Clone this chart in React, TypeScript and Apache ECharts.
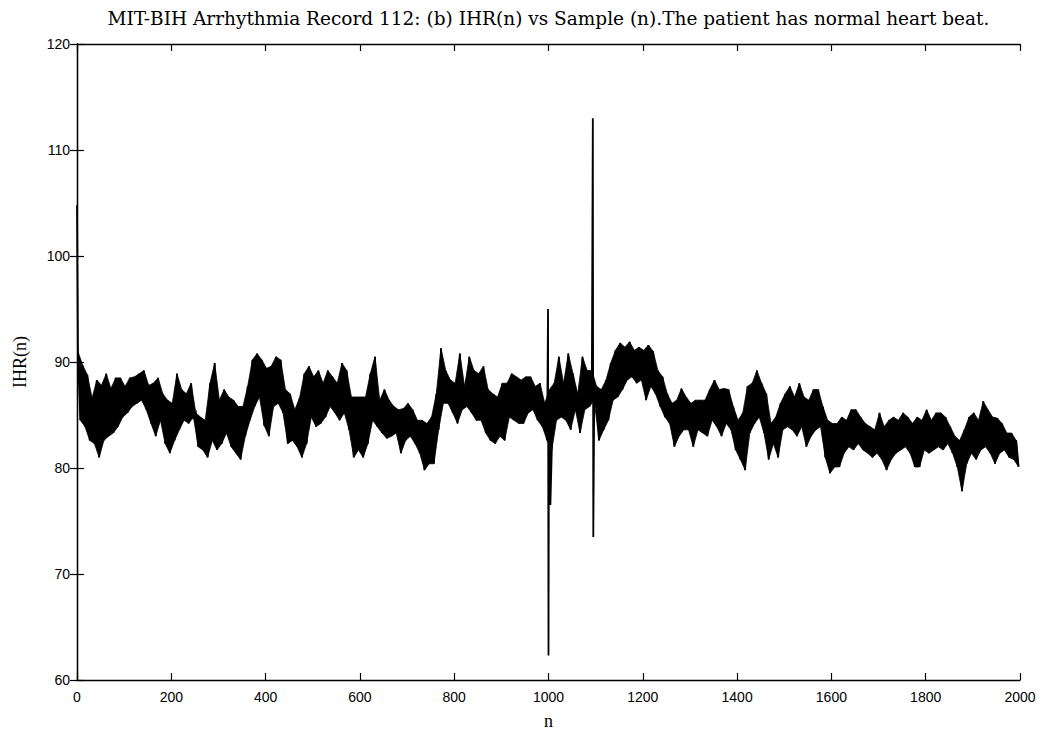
import React, { useEffect, useRef } from "react";
import * as echarts from "echarts";

const titleText =
  "MIT-BIH Arrhythmia Record 112: (b) IHR(n) vs Sample (n).The patient has normal heart beat.";
const xName = "n";
const yName = "IHR(n)";

// sample index step of each envelope bin
const binStep = 10;

// upper envelope of IHR per 10-sample bin (bins 0..199)
const binHi = [
  91, 89.7, 88.8, 86.6, 88.3, 87.8, 88.9, 87.5, 88.5, 88.5,
  87.7, 88.5, 88.6, 88.9, 89.2, 87.8, 88, 88.5, 87, 86.4,
  86.1, 88.9, 87.4, 87, 88, 85.2, 84.8, 84.5, 88, 89.9,
  86.4, 87.4, 86.7, 86.4, 85.8, 85.8, 87.7, 90.2, 90.8, 90.2,
  89.4, 89.6, 90.5, 90.2, 87.4, 87, 85.5, 86.6, 88.9, 89.6,
  88.6, 89.2, 88, 89.2, 88.6, 88, 89.9, 89.2, 86.7, 86.7,
  86.7, 86.7, 88.9, 90.5, 86.4, 87.4, 86.4, 85.8, 85.5, 85.6,
  86.1, 85.5, 84.5, 84.5, 84.2, 84.8, 87, 91.3, 89.2, 88.3,
  88, 90.8, 87.7, 90.5, 89.2, 88.9, 89.6, 87.4, 87, 86.7,
  88, 88, 88.9, 88.6, 88.3, 88.6, 88.6, 87.7, 88, 86.1,
  87.4, 88, 90.5, 88, 90.8, 88.9, 87, 90.5, 89.2, 89.2,
  87.7, 87.4, 88.3, 89.9, 91.1, 91.8, 91.4, 91.9, 91.1, 91.4,
  91.1, 91.6, 91, 89.2, 88.6, 87, 86.1, 86.4, 87.5, 86.7,
  86.1, 86.4, 86.4, 86.4, 87.4, 88.3, 87.4, 87.5, 87.4, 85.8,
  84.5, 85.2, 87.7, 88, 89.2, 88, 87, 84.2, 84.8, 86.1,
  87, 87.7, 86.7, 88, 86.7, 86.4, 87.4, 87.4, 85.8, 84.5,
  84.2, 84.2, 84.8, 84.5, 85.5, 85.5, 84.8, 84.2, 83.9, 83.6,
  85.2, 83.9, 84.5, 84.8, 84.5, 85.2, 84.8, 84.2, 84.8, 84.5,
  85.5, 84.5, 85.2, 85.2, 84.8, 83.9, 83, 82.6, 83.6, 84.8,
  85.2, 84.5, 86.3, 85.5, 84.8, 84.7, 84.2, 83.3, 83.3, 82.6,
];

// lower envelope of IHR per 10-sample bin (bins 0..199)
const binLo = [
  84.5, 83.9, 82.6, 82.3, 81, 82.6, 83, 83.3, 83.9, 84.8,
  85.2, 85.8, 86.1, 86.4, 85.5, 84.2, 83, 84.5, 82.3, 81.4,
  82.6, 83.6, 84.5, 84.2, 84.8, 82, 81.7, 81, 82.6, 81.7,
  82.3, 83.3, 82, 81.4, 80.8, 83, 84.5, 85.8, 86.7, 84,
  83, 85.8, 86.1, 85.2, 82.3, 82.6, 82, 81, 82.3, 84.8,
  83.9, 84.2, 84.8, 85.8, 85.2, 84.5, 85.2, 83.6, 81, 81.7,
  81, 82.3, 84.5, 83.9, 83.3, 82.8, 83, 83.3, 81.4, 82.6,
  83, 82.3, 81.4, 79.8, 80.4, 80.4, 83.6, 86.1, 86.1, 85.2,
  84.2, 85.5, 85.8, 85.2, 84.5, 84.5, 83.3, 82.6, 82.3, 83,
  82.6, 84.8, 84.5, 84.2, 84.2, 85.2, 85.5, 84.5, 83.9, 82.6,
  81.7, 84.5, 84.8, 84.5, 83.6, 85.5, 83.3, 85.5, 85.8, 86.4,
  82.6, 83.6, 84.5, 86.4, 86.7, 87.4, 88.3, 88.6, 88, 88.3,
  86.4, 87.7, 87, 85.8, 84.8, 84.2, 82, 83, 83.6, 83.6,
  82, 83.6, 83.3, 83, 84.5, 83.9, 83, 84.2, 83.6, 81.7,
  80.8, 79.8, 83.3, 84.2, 84.8, 83.3, 80.8, 82.3, 81, 83.6,
  83.9, 83.6, 83, 83.9, 82, 83, 83.6, 83.9, 81, 79.5,
  80.1, 80.1, 81.4, 82, 81.7, 82.3, 81.7, 81.4, 81, 81.4,
  80.8, 79.8, 80.8, 81.4, 81.7, 82, 81.4, 80.1, 80.1, 81.7,
  81.4, 81.7, 82, 81.7, 82.3, 81.4, 80.1, 77.8, 80.4, 81.4,
  80.8, 81.7, 82, 81.4, 80.4, 81.4, 81.7, 81, 80.8, 80.1,
];

// isolated spikes (sample index, IHR)
const spikeN = [0, 999, 1000, 1001, 1004, 1094, 1095];
const spikeV = [104.8, 95, 62.3, 86, 76.5, 113, 73.5];

const xTicks = { min: 0, max: 2000, interval: 200 };
const yTicks = { min: 60, max: 120, interval: 10 };

function buildSeries(): [number, number][] {
  const pts: [number, number][] = [];
  for (let i = 0; i < binHi.length; i++) {
    pts.push([i * binStep + 2, binHi[i]]);
    pts.push([i * binStep + 7, binLo[i]]);
  }
  for (let k = 0; k < spikeN.length; k++) pts.push([spikeN[k], spikeV[k]]);
  pts.sort((a, b) => a[0] - b[0]);
  return pts;
}

export default function App() {
  const ref = useRef<HTMLDivElement>(null);
  useEffect(() => {
    if (!ref.current) return;
    const chart = echarts.init(ref.current, undefined, { renderer: "svg" });
    const axisLine = { show: true, lineStyle: { color: "#000", width: 1.3 } };
    const tick = { show: true, inside: true, length: 7, lineStyle: { color: "#000", width: 1.2 } };
    const labelStyle = {
      color: "#000",
      fontSize: 14,
      fontFamily: "Liberation Sans",
      formatter: (v: number) => String(v),
    };
    const nameStyle = { color: "#000", fontSize: 18, fontFamily: "Liberation Serif" };
    chart.setOption({
      animation: false,
      backgroundColor: "#fff",
      grid: { left: 77, right: 21, top: 44, bottom: 56, containLabel: false },
      graphic: [
        {
          type: "text",
          x: 548.5,
          y: 18,
          style: {
            text: titleText,
            textAlign: "center",
            textVerticalAlign: "middle",
            fontSize: 18.5,
            fontFamily: "DejaVu Serif",
            fill: "#000",
          },
        },
      ],
      xAxis: [
        {
          type: "value",
          position: "bottom",
          ...xTicks,
          axisLine,
          axisTick: tick,
          axisLabel: { ...labelStyle, margin: 10 },
          splitLine: { show: false },
          name: xName,
          nameLocation: "middle",
          nameGap: 32,
          nameTextStyle: nameStyle,
        },
        {
          type: "value",
          position: "top",
          ...xTicks,
          axisLine,
          axisTick: tick,
          axisLabel: { show: false },
          splitLine: { show: false },
        },
      ],
      yAxis: [
        {
          type: "value",
          position: "left",
          ...yTicks,
          axisLine,
          axisTick: tick,
          axisLabel: { ...labelStyle, margin: 7 },
          splitLine: { show: false },
          name: yName,
          nameLocation: "middle",
          nameGap: 48,
          nameTextStyle: nameStyle,
        },
        {
          type: "value",
          position: "right",
          ...yTicks,
          axisLine,
          axisTick: tick,
          axisLabel: { show: false },
          splitLine: { show: false },
        },
      ],
      series: [
        {
          type: "custom",
          xAxisIndex: 0,
          yAxisIndex: 0,
          silent: true,
          clip: true,
          data: [[binStep, binHi[0]]],
          renderItem: (_params: any, api: any) => {
            const pts: number[][] = [];
            for (let i = 0; i < binHi.length; i++) pts.push(api.coord([i * binStep + 2, binHi[i]]));
            for (let i = binLo.length - 1; i >= 0; i--) pts.push(api.coord([i * binStep + 7, binLo[i]]));
            return { type: "polygon", shape: { points: pts }, style: { fill: "#000", stroke: "#000", lineWidth: 0.8 } };
          },
        },
        {
          type: "line",
          xAxisIndex: 0,
          yAxisIndex: 0,
          data: buildSeries(),
          showSymbol: false,
          symbol: "none",
          lineStyle: { color: "#000", width: 1.8, join: "miter", cap: "butt" },
          silent: true,
        },
      ],
    });
    return () => chart.dispose();
  }, []);
  return (
    <div
      ref={ref}
      style={{ position: "fixed", left: 0, top: 0, width: 1041, height: 736, background: "#fff" }}
    />
  );
}
